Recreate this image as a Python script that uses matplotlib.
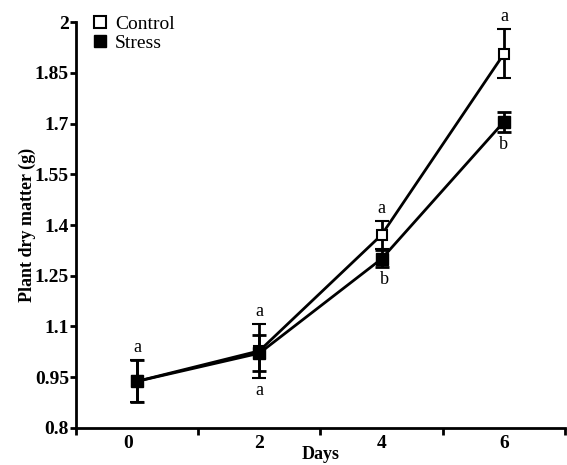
import matplotlib
matplotlib.use("Agg")
import matplotlib.pyplot as plt
from matplotlib.lines import Line2D

days = [0, 2, 4, 6]
control = [0.938, 1.028, 1.371, 1.906]
control_err = [0.062, 0.080, 0.042, 0.072]
stress = [0.938, 1.021, 1.300, 1.705]
stress_err = [0.062, 0.054, 0.025, 0.030]
letters_control = ["a", "a", "a", "a"]
letters_stress = ["", "a", "b", "b"]
yticks = [0.8, 0.95, 1.1, 1.25, 1.4, 1.55, 1.7, 1.85, 2]
ytick_labels = ["0.8", "0.95", "1.1", "1.25", "1.4", "1.55", "1.7", "1.85", "2"]

plt.rcParams['font.family'] = ['Liberation Serif', 'DejaVu Serif']

fig = plt.figure(figsize=(5.67, 4.65), dpi=100)
ax = fig.add_axes([0.134, 0.0796, 0.8625, 0.873])

ax.errorbar(days, control, yerr=control_err, color='black', lw=2, marker='s',
            ms=7.5, mfc='white', mec='black', mew=1.5, capsize=5, capthick=2,
            elinewidth=2, zorder=3)
ax.errorbar(days, stress, yerr=stress_err, color='black', lw=2, marker='s',
            ms=9, mfc='black', mec='black', capsize=5, capthick=2, elinewidth=2,
            zorder=4)

for d, v, e, t in zip(days, control, control_err, letters_control):
    if t:
        ax.text(d, v + e + 0.012, t, ha='center', va='bottom', fontsize=13)
for i, (d, v, e, t) in enumerate(zip(days, stress, stress_err, letters_stress)):
    if t:
        low = min(v - e, control[i] - control_err[i]) if d == 2 else v - e
        ax.text(d + (0.05 if d == 4 else 0), low - 0.012, t, ha='center', va='top', fontsize=13)

ax.set_xlim(-1, 7)
ax.set_ylim(0.8, 2.0)
ax.set_yticks(yticks)
ax.set_yticklabels(ytick_labels, fontsize=14, fontweight='bold')
ax.set_xticks([-1, 1, 3, 5, 7])
ax.set_xticklabels([])
ax.set_xticks([d - 0.15 if d == 0 else d for d in days], minor=True)
ax.set_xticklabels([str(d) for d in days], minor=True, fontsize=14, fontweight='bold')
ax.tick_params(axis='x', which='minor', length=0, pad=5)
ax.tick_params(axis='x', which='major', length=5, width=2, direction='out')
ax.tick_params(axis='y', length=4, width=2, direction='out', pad=1)

for s in ['top', 'right']:
    ax.spines[s].set_visible(False)
for s in ['left', 'bottom']:
    ax.spines[s].set_linewidth(2)

ax.set_xlabel('Days', fontsize=13, fontweight='bold', labelpad=-4)
ax.set_ylabel('Plant dry matter (g)', fontsize=13, fontweight='bold', labelpad=-1)

h_c = Line2D([], [], ls='none', marker='s', ms=8, mfc='white', mec='black', mew=1.5)
h_s = Line2D([], [], ls='none', marker='s', ms=8, mfc='black', mec='black')
ax.legend([h_c, h_s], ['Control', 'Stress'], loc='upper left', bbox_to_anchor=(0.02, 1.035),
          frameon=False, fontsize=14, handlelength=0.7, handletextpad=0.4,
          labelspacing=0.05, borderaxespad=0)

fig.savefig('out.png', dpi=100)
